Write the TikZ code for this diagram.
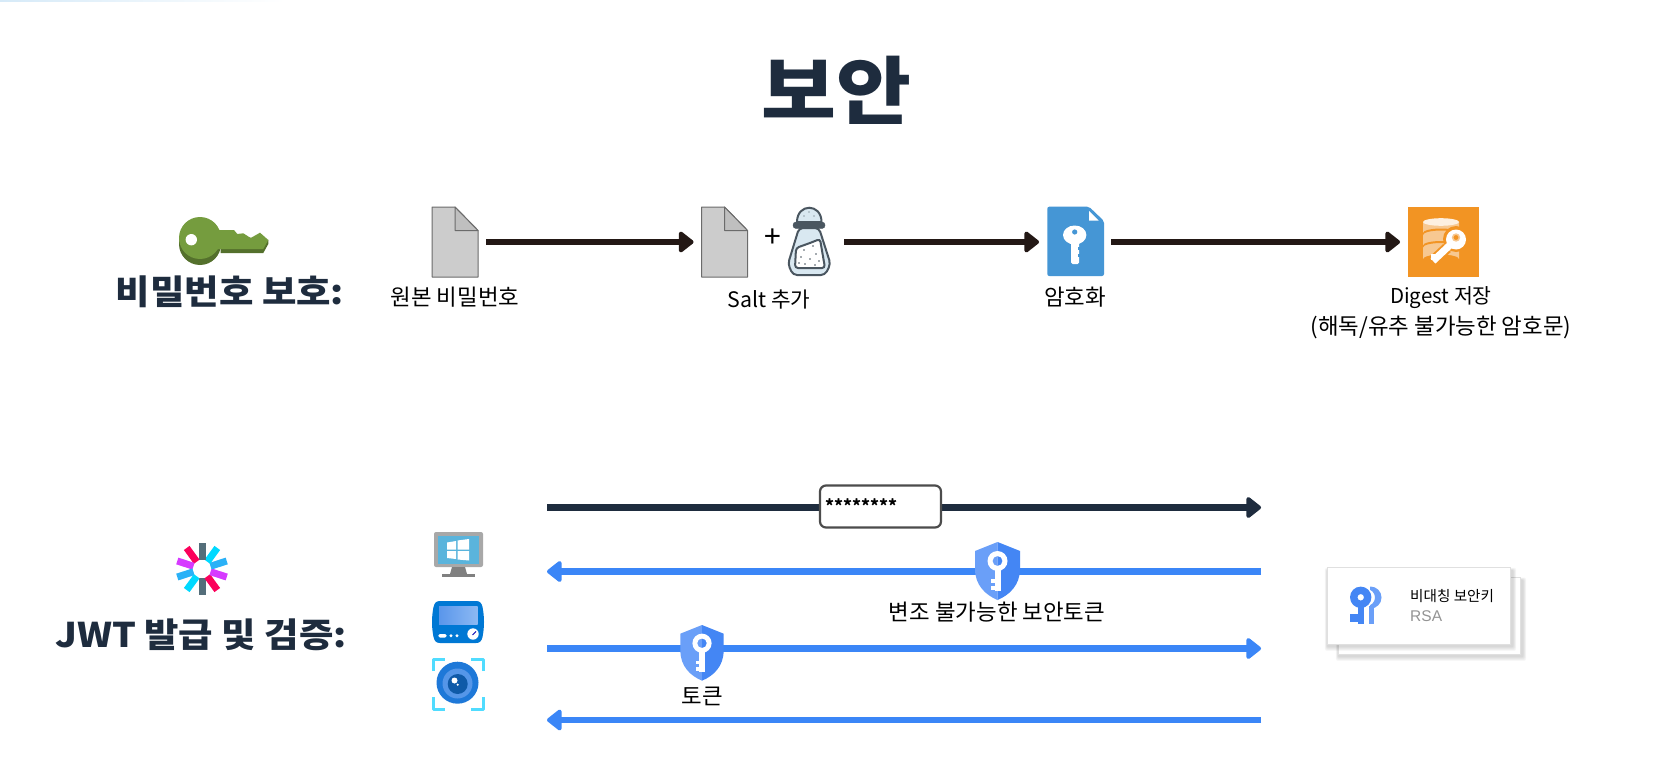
\documentclass[tikz,border=0pt]{standalone}
\usepackage{fontspec}
\setmainfont{Noto Sans CJK KR}
\newfontfamily\kr{Noto Sans CJK KR}
\newfontfamily\krh[FakeStretch=1.1]{Noto Sans CJK KR Black}
\newfontfamily\rsafont{Liberation Sans}
\usetikzlibrary{arrows.meta,shapes.geometric}
\definecolor{navy}{HTML}{1E2C3E}
\definecolor{brown}{HTML}{231815}
\definecolor{flow}{HTML}{3B86F7}
\definecolor{shieldL}{HTML}{6A9FF8}
\definecolor{shieldR}{HTML}{4486F4}
\definecolor{saltline}{HTML}{4A5660}
\definecolor{saltfill}{HTML}{D9E8F1}
\definecolor{keygreen}{HTML}{759C3E}
\definecolor{keydark}{HTML}{54702C}
\definecolor{docblue}{HTML}{4596D5}
\definecolor{vaultor}{HTML}{F29423}
\definecolor{vaultlt}{HTML}{F7C891}
\definecolor{msblue}{HTML}{0078D4}
\tikzset{
 iconbox/.style={minimum size=0pt,inner sep=0pt,outer sep=0pt},
 flowdark/.style={line width=6.4pt,draw=brown,-{Triangle[length=16pt,width=24pt,round]}},
 flownavy/.style={line width=6.4pt,draw=navy,-{Triangle[length=16pt,width=24pt,round]}},
 flowblue/.style={line width=6.4pt,draw=flow,-{Triangle[length=16pt,width=24pt,round]}},
 lab/.style={font=\kr\fontsize{22.4}{29}\selectfont,text=black,inner sep=0pt,align=center},
 head/.style={font=\krh\fontsize{34}{40}\selectfont,text=navy,inner sep=0pt},
}
\newcommand{\docicon}[2]{% left, top
 \begin{scope}[shift={(#1,#2)}]
  \filldraw[fill=black!20,draw=black!58,line width=1pt,line join=round] (0,0)--(23,0)--(46,23.5)--(46,70)--(0,70)--cycle;
  \filldraw[fill=black!25,draw=black!58,line width=1pt,line join=round] (23,0)--(46,23.5)--(23,23.5)--cycle;
 \end{scope}}
\newcommand{\shieldicon}[3]{% cx, top, scale
 \begin{scope}[shift={(#1,#2)},scale=#3]
  \fill[shieldL] (0,0)--(-22.5,9)--(-22.5,27) .. controls (-22.5,43) and (-12,53) .. (0,58)--cycle;
  \fill[shieldR] (0,0)--(22.5,9)--(22.5,27) .. controls (22.5,43) and (12,53) .. (0,58)--cycle;
  \fill[white,even odd rule] (0,19) circle (10) (0,19) circle (5);
  \fill[white] (-3,27) rectangle (3,49);
  \fill[white] (-6.5,37) rectangle (0,41);
  \fill[white] (-6.5,44) rectangle (0,48);
 \end{scope}}
\newcommand{\softshadow}[4]{% x1,y1,x2,y2
 \foreach \g in {5,4,3,2,1}{
  \fill[black,opacity=0.03,rounded corners=2pt] (#1-\g*0.5,#2+3-\g*0.5) rectangle (#3+2+\g*0.7,#4+2+\g*0.9);
 }}
\begin{document}
\begin{tikzpicture}[x=1pt,y=-1pt]
\useasboundingbox (0,0) rectangle (1672,778);
\fill[white] (0,0) rectangle (1672,778);
\shade[left color={rgb,255:red,214;green,234;blue,248},right color=white,shading angle=90] (0,0) rectangle (285,1.2);

\node[font=\krh\fontsize{74}{80}\selectfont,text=navy,inner sep=0pt] (title) at (836,90) {보안};

% --- green key
\fill[keydark] (200,244) circle (21);
\fill[keydark] (220.7,234)--(268.3,240)--(268.3,244)--(263.3,253)--(220.7,253)--cycle;
\fill[keygreen] (200,238) circle (21);
\fill[keygreen] (215,230)--(234,230)--(237.3,234)--(243.3,233.3)--(250.7,238)--(260,232.7)--(268.3,240)--(263.3,249)--(215,249)--cycle;
\fill[white] (191.3,239.7) circle (5.7);
\node[iconbox] (passkey) at (223.5,242) {};
\node[head] (passlabel) at (230,292) {비밀번호 보호:};

% --- documents
\docicon{432}{207}
\node[iconbox,minimum width=46pt,minimum height=70pt] (doc1) at (455,242) {};
\node[lab] (doc1lab) at (455,297) {원본 비밀번호};
\docicon{701.5}{207}
\node[iconbox,minimum width=46pt,minimum height=70pt] (doc2) at (724.5,242) {};
\node[lab,font=\kr\fontsize{30}{32}\selectfont] (plus) at (773,238) {+};

% --- salt shaker
\begin{scope}
 \filldraw[fill=saltfill,draw=saltline,line width=2pt] (797,222) .. controls (797,203) and (821.5,203) .. (821.5,222)--cycle;
 \filldraw[fill=saltfill,draw=saltline,line width=2pt,rounded corners=4pt] (799,228)--(819,228)--(830.5,264)--(825,275)--(793,275)--(788,264)--cycle;
 \filldraw[fill=white,draw=saltline,line width=2pt,rounded corners=3pt] (796,248)--(810,243)--(820,239)--(825,268)--(795,268)--cycle;
 \filldraw[fill=saltline,draw=saltline,rounded corners=3pt] (793,222)--(825,222)--(825,228.5)--(793,228.5)--cycle;
 \foreach \p in {(804,250),(813,246),(816,254),(801,257),(810,259),(819,261),(805,264),(815,265),(799,263)}
   \fill[saltline] \p circle (0.9);
 \foreach \p in {(804,216),(809,212),(814,216)}
   \fill[saltline] \p circle (0.7);
\end{scope}
\node[iconbox,minimum width=43pt,minimum height=68pt] (salt) at (809.5,242) {};
\node[lab,font=\kr\fontsize{21.3}{29}\selectfont] (saltlab) at (769,300) {Salt 추가};

% --- key document
\fill[docblue,rounded corners=2pt] (1047.3,206.7)--(1089,206.7)--(1104,221)--(1104,276)--(1047.3,276)--cycle;
\fill[white] (1089,211)--(1098.5,220.5)--(1089,220.5)--cycle;
\fill[white] (1074.7,235) ellipse (11.7 and 9.5);
\fill[docblue] (1074.7,232) circle (2.6);
\fill[white,rounded corners=1.5pt] (1071,240) rectangle (1079,264);
\fill[docblue] (1078,247) rectangle (1080,249.5);
\fill[docblue] (1078,254) rectangle (1080,256.5);
\node[iconbox,minimum width=57pt,minimum height=69pt] (cipher) at (1075.5,242) {};
\node[lab] (cipherlab) at (1075,297) {암호화};

% --- orange vault
\fill[vaultor] (1408,207) rectangle (1479,277);
\node[iconbox,minimum width=71pt,minimum height=70pt] (vault) at (1443.5,242) {};
\fill[vaultlt] (1423,222)--(1423,259) arc[start angle=180,end angle=360,x radius=18,y radius=4.5]--(1459,222)--cycle;
\fill[vaultor] (1423,233) arc[start angle=180,end angle=360,x radius=18,y radius=4.5]--(1459,235) arc[start angle=360,end angle=180,x radius=18,y radius=4.5]--cycle;
\fill[vaultor] (1423,245.5) arc[start angle=180,end angle=360,x radius=18,y radius=4.5]--(1459,247.5) arc[start angle=360,end angle=180,x radius=18,y radius=4.5]--cycle;
\fill[color={rgb,255:red,253;green,240;blue,224}] (1441,222) ellipse (18 and 3.8);
\fill[vaultor] (1456,239) circle (13);
\draw[vaultor,line width=11pt] (1447,248)--(1431,263);
\fill[white] (1456,239.5) circle (10);
\draw[white,line width=7pt] (1450,245)--(1433,261);
\fill[white] (1431,254) rectangle (1437,260);
\fill[vaultlt] (1456,237.5) circle (4.2);
\fill[vaultor] (1456,237.5) circle (2.4);
\node[lab,anchor=center] (vaultlab) at (1441,312.5) {{\fontsize{20.5}{29}\selectfont Digest 저장}\\[2pt](해독/유추 불가능한 암호문)};

% --- first row connectors
\draw[flowdark,shorten <=8pt,shorten >=8pt] (doc1)--(doc2);
\draw[flowdark,shorten <=13pt,shorten >=8pt] (salt)--(cipher);
\draw[flowdark,shorten <=7pt,shorten >=8pt] (cipher)--(vault);

% --- JWT logo
\node[iconbox] (jwt) at (202,569) {};
\foreach \a/\c in {90/546E7A,54/FB015B,18/D63AFF,-18/2AB1F7,-54/00D9FF,-90/546E7A,-126/FB015B,-162/D63AFF,162/2AB1F7,126/00D9FF}{
  \definecolor{spoke}{HTML}{\c}
  \draw[spoke,line width=7pt] (jwt.center)++(\a:9)--++(\a:17);
}
\node[head] (jwtlabel) at (201,635) {JWT 발급 및 검증:};

% --- client devices
\fill[color={rgb,255:red,168;green,168;blue,168},rounded corners=2pt] (434,532) rectangle (483,567);
\fill[color={rgb,255:red,90;green,180;blue,220}] (437.7,535.7) rectangle (479,564);
\fill[white] (447,542.5)--(456,541)--(456,549.5)--(447,549.5)--cycle;
\fill[white] (457.5,540.5)--(469,539)--(469,549.5)--(457.5,549.5)--cycle;
\fill[white] (447,551)--(456,551)--(456,559)--(447,558)--cycle;
\fill[white] (457.5,551)--(469,551)--(469,560.5)--(457.5,559.5)--cycle;
\fill[black!50] (452,567)--(465,567)--(467,574)--(450,574)--cycle;
\fill[black!50] (442,574) rectangle (474.5,577);
\node[iconbox,minimum width=49pt,minimum height=45pt] (monitor) at (458.5,554.5) {};

\fill[msblue] (440,601)--(476,601) .. controls (480,601) and (481.5,603) .. (482.5,607) .. controls (484.5,617) and (484.5,627) .. (482.5,637) .. controls (481.5,641) and (480,643) .. (476,643)--(440,643) .. controls (436,643) and (434.5,641) .. (433.5,637) .. controls (431.5,627) and (431.5,617) .. (433.5,607) .. controls (434.5,603) and (436,601) .. (440,601)--cycle;
\shade[left color={rgb,255:red,90;green,150;blue,235},right color={rgb,255:red,140;green,185;blue,243}] (439,606.3) rectangle (477.7,624);
\fill[white,rounded corners=1.5pt] (438.3,634) rectangle (446.7,637.5);
\fill[white] (451,635.7) circle (1.6);
\fill[white] (457,635.7) circle (1.6);
\fill[white] (473,634) circle (5.7);
\draw[blue!70!black,line width=0.8pt] (472.5,635)--(476,631.5);
\node[iconbox,minimum width=52pt,minimum height=42pt] (device) at (458,622) {};

\foreach \sx/\sy in {1/1,-1/1,1/-1,-1/-1}{
 \draw[color={rgb,255:red,80;green,220;blue,255},line width=3pt,line join=round,shift={(458.3,684)}] (\sx*25.2,\sy*13)--(\sx*25.2,\sy*25)--(\sx*13,\sy*25);
}
\fill[color={rgb,255:red,30;green,120;blue,216}] (457.5,682.7) circle (21);
\fill[color={rgb,255:red,85;green,150;blue,232}] (457.5,683.5) circle (15);
\fill[color={rgb,255:red,15;green,90;blue,168}] (457.7,684) circle (10);
\fill[white] (454.5,680.5) circle (3);
\fill[white] (457.7,684.7) circle (1.2);
\node[iconbox,minimum width=53pt,minimum height=53pt] (camera) at (458.3,684) {};

% --- token flow
\coordinate (c1) at (547,507.5); \coordinate (s1) at (1261,507.5);
\coordinate (c2) at (547,571.5); \coordinate (s2) at (1261,571.5);
\coordinate (c3) at (547,648.5); \coordinate (s3) at (1261,648.5);
\coordinate (c4) at (547,720); \coordinate (s4) at (1261,720);
\draw[flownavy] (c1)--(s1);
\draw[flowblue] (s2)--(c2);
\draw[flowblue] (c3)--(s3);
\draw[flowblue] (s4)--(c4);

\node[draw=black!70,line width=2.2pt,rounded corners=6pt,fill=white,minimum width=121pt,minimum height=42pt,inner sep=0pt] (pwbox) at (880.5,506.5) {};
\node[font=\kr\fontsize{17}{20}\selectfont\bfseries,anchor=west,inner sep=0pt] (pwtext) at (825,506) {********};

\shieldicon{997.5}{542}{1}
\node[iconbox,minimum width=45pt,minimum height=58pt] (shield1) at (997.5,571) {};
\node[lab] (shield1lab) at (997,612) {변조 불가능한 보안토큰};
\shieldicon{702}{625}{0.96}
\node[iconbox,minimum width=44pt,minimum height=55pt] (shield2) at (702,652) {};
\node[lab] (shield2lab) at (702,696) {토큰};

% --- server key cards
\softshadow{1338.3}{577}{1520.7}{654.3}
\fill[white] (1338.3,577) rectangle (1520.7,654.3);
\draw[black!12,line width=1pt] (1338.3,577) rectangle (1520.7,654.3);
\softshadow{1327.3}{567.3}{1510.7}{644.3}
\fill[white] (1327.3,567.3) rectangle (1510.7,644.3);
\draw[black!12,line width=1pt] (1327.3,567.3) rectangle (1510.7,644.3);
\node[iconbox,minimum width=183pt,minimum height=77pt] (keycard) at (1419,605.8) {};
\begin{scope}
 \clip (1370,585) rectangle (1385,612);
 \fill[shieldL,even odd rule] (1370.5,597.5) circle (11) (1366.5,597.5) circle (8.5);
\end{scope}
\fill[shieldL] (1369.3,606) rectangle (1374.3,624.3);
\fill[shieldR,even odd rule] (1360.7,597.3) circle (10.7) (1360.7,597.3) circle (3.3);
\fill[shieldR] (1357.7,605) rectangle (1364.3,624.3);
\fill[shieldR] (1350,614) rectangle (1358,622);
\node[font=\kr\fontsize{14.6}{18}\selectfont,anchor=west,inner sep=0pt] (keytitle) at (1410,596) {비대칭 보안키};
\node[font=\rsafont\fontsize{15.5}{18}\selectfont,text=black!42,anchor=west,inner sep=0pt] (keyalg) at (1410,616) {RSA};
\end{tikzpicture}
\end{document}
